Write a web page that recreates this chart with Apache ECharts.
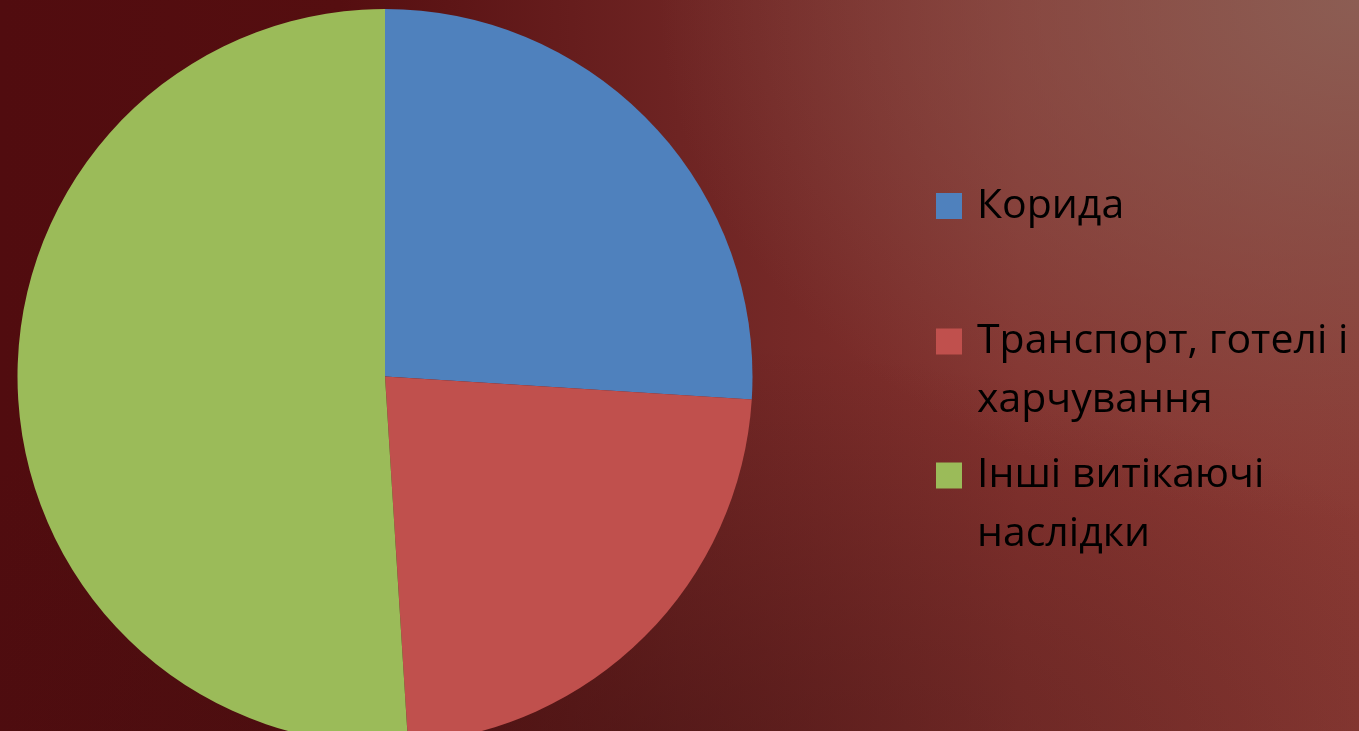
<!DOCTYPE html>
<html>
<head>
<meta charset="utf-8">
<script src="https://cdn.jsdelivr.net/npm/echarts@6/dist/echarts.min.js"></script>
<style>
  html, body { margin: 0; padding: 0; width: 1359px; height: 731px; overflow: hidden; }
  body {
    background:
      radial-gradient(ellipse 700px 520px at 1359px 0px, rgba(140,95,85,0.95) 0%, rgba(140,95,85,0.55) 40%, rgba(140,95,85,0) 100%),
      radial-gradient(ellipse 900px 420px at 650px 760px, rgba(60,15,15,0.5) 0%, rgba(60,15,15,0) 100%),
      linear-gradient(90deg, #510c0f 0%, #550e10 25%, #6e2423 50%, #84332f 75%, #8a3a34 100%);
  }
  #chart { width: 1359px; height: 731px; }
</style>
</head>
<body>
<div id="chart"></div>
<script>
const categories = ['Корида', 'Транспорт, готелі і харчування', 'Інші витікаючі наслідки'];
const values = [26, 23, 51];
const legendLabels = ['Корида', 'Транспорт, готелі і\nхарчування', 'Інші витікаючі\nнаслідки'];
const colors = ['#4f81bd', '#c0504d', '#9bbb59'];

const chart = echarts.init(document.getElementById('chart'));
const lineH = 59;
const legendTops = [176.5, 253, 387];
const legends = categories.map((name, i) => {
  const lines = legendLabels[i].split('\n');
  // a leading empty line keeps the first text line centred on the marker
  const text = lines.length > 1 ? '\n' + lines.join('\n') : lines[0];
  return {
    orient: 'vertical',
    left: 936,
    top: legendTops[i],
    padding: 0,
    itemWidth: 26,
    itemHeight: 26,
    icon: 'rect',
    selectedMode: false,
    data: [name],
    formatter: () => text,
    textStyle: {
      color: '#000',
      fontFamily: 'Open Sans',
      fontSize: 41,
      lineHeight: lineH,
      padding: [0, 0, 0, 10]
    }
  };
});

chart.setOption({
  backgroundColor: 'transparent',
  animation: false,
  color: colors,
  legend: legends,
  series: [{
    type: 'pie',
    center: [385, 376.5],
    radius: 367.5,
    startAngle: 90,
    clockwise: true,
    label: { show: false },
    labelLine: { show: false },
    emphasis: { disabled: true },
    itemStyle: { borderWidth: 0 },
    data: categories.map((name, i) => ({ name, value: values[i] }))
  }]
});
</script>
</body>
</html>
